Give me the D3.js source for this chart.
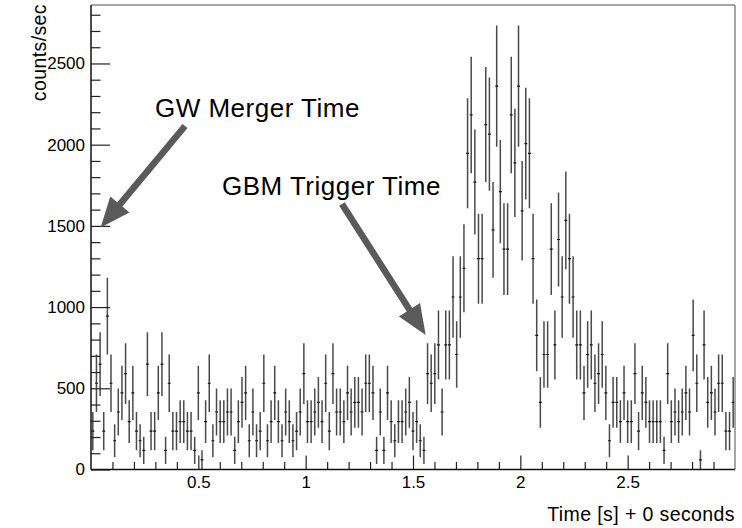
<!DOCTYPE html>
<html><head><meta charset="utf-8">
<script src="https://cdn.jsdelivr.net/npm/d3@7"></script>
<style>
body{margin:0;background:#fff}
svg{display:block}
text{font-family:"Liberation Sans",Arial,Helvetica,sans-serif;fill:#000}
</style>
</head><body>
<svg id="chart" width="742" height="528"></svg>
<script>
// ---- data ----
const binWidth = 3 / 177;          // seconds per bin
const timeRange = [0, 3];          // histogram range (s)
// counts per bin (rate = counts / binWidth)
const binCounts = [
  4, 9, 11, 4, 16, 9, 3, 6, 8, 10,
  5, 8, 4, 3, 2, 11, 4, 4, 8, 11,
  2, 9, 4, 4, 5, 5, 4, 4, 2, 8,
  1, 5, 9, 3, 6, 5, 5, 6, 6, 2,
  5, 7, 8, 3, 6, 3, 4, 9, 3, 5,
  8, 5, 3, 6, 5, 3, 4, 6, 10, 5,
  5, 6, 7, 5, 9, 4, 10, 6, 6, 5,
  8, 6, 7, 7, 6, 9, 9, 8, 2, 6,
  2, 8, 5, 3, 5, 5, 6, 7, 4, 5,
  3, 2, 10, 9, 10, 13, 6, 13, 13, 18,
  12, 18, 21, 33, 37, 30, 22, 22, 36, 35,
  25, 40, 29, 23, 23, 37, 32, 40, 27, 34,
  33, 22, 14, 7, 12, 12, 23, 13, 24, 18,
  26, 22, 18, 13, 13, 8, 12, 13, 9, 10,
  12, 8, 3, 7, 7, 5, 8, 5, 5, 10,
  4, 8, 7, 5, 5, 5, 5, 2, 10, 5,
  6, 5, 6, 8, 6, 14, 9, 1, 13, 7,
  8, 6, 9, 9, 4, 4, 7
];
const yMax = 2860;
const xMajorTicks = [0.5, 1, 1.5, 2, 2.5];
const xTickLabels = ["0.5", "1", "1.5", "2", "2.5"];
const yMajorTicks = [0, 500, 1000, 1500, 2000, 2500];
const yTickLabels = ["0", "500", "1000", "1500", "2000", "2500"];
const xTitle = "Time [s] + 0 seconds";
const yTitle = "counts/sec";
const annotationLabels = ["GW Merger Time", "GBM Trigger Time"];

// ---- layout (annotation anchors in data units) ----
const annotationLayout = [
  {tx: 0.298, ty: 2170, x0: 0.438, y0: 2115, x1: 0.045, y1: 1490},
  {tx: 0.610, ty: 1690, x0: 1.169, y0: 1635, x1: 1.559, y1: 828}
];

const svg = d3.select("#chart");
const L = 91, R = 735, T = 5, B = 469.5;
const x = d3.scaleLinear().domain(timeRange).range([L, R]);
const y = d3.scaleLinear().domain([0, yMax]).range([B, T]);

const bins = binCounts.map((n, i) => ({
  t: timeRange[0] + (i + 0.5) * binWidth,
  rate: n / binWidth,
  err: Math.sqrt(n) / binWidth
}));

// clip
svg.append("clipPath").attr("id", "plotclip")
  .append("rect").attr("x", L).attr("y", T).attr("width", R - L).attr("height", B - T);

// data
const g = svg.append("g").attr("clip-path", "url(#plotclip)");
g.selectAll("line.ey").data(bins).enter().append("line")
  .attr("x1", d => x(d.t)).attr("x2", d => x(d.t))
  .attr("y1", d => y(d.rate + d.err)).attr("y2", d => y(Math.max(0, d.rate - d.err)))
  .attr("stroke", "#4a4a4a").attr("stroke-width", 1.5);
g.selectAll("line.ex").data(bins).enter().append("line")
  .attr("x1", d => x(d.t - binWidth * 0.4)).attr("x2", d => x(d.t + binWidth * 0.4))
  .attr("y1", d => y(d.rate)).attr("y2", d => y(d.rate))
  .attr("stroke", "#111").attr("stroke-width", 1.2);

// axes
const xMinor = d3.range(1, 30).map(v => v / 10).filter(v => Math.abs(v * 2 - Math.round(v * 2)) > 1e-6);
const yMinor = d3.range(1, 29).map(v => v * 100).filter(v => v % 500 !== 0);

svg.append("g").attr("transform", `translate(0,${B})`)
  .call(d3.axisBottom(x).tickValues(xMajorTicks).tickSize(-14).tickPadding(6)
    .tickFormat((d, i) => xTickLabels[i]));
svg.append("g").attr("transform", `translate(0,${B})`)
  .call(d3.axisBottom(x).tickValues(xMinor).tickSize(-7.5).tickFormat(""));
svg.append("g").attr("transform", `translate(${L},0)`)
  .call(d3.axisLeft(y).tickValues(yMajorTicks).tickSize(-19).tickPadding(6)
    .tickFormat((d, i) => yTickLabels[i]));
svg.append("g").attr("transform", `translate(${L},0)`)
  .call(d3.axisLeft(y).tickValues(yMinor).tickSize(-9.5).tickFormat(""));
svg.selectAll(".domain").remove();
svg.selectAll(".tick line").attr("stroke", "#222").attr("stroke-width", 1.2);
svg.selectAll(".tick text").style("font-size", "17px")
  .style("font-family", '"Liberation Sans",Arial,Helvetica,sans-serif');

// frame
svg.append("line").attr("x1", L).attr("x2", R).attr("y1", T).attr("y2", T)
  .attr("stroke", "#888").attr("stroke-width", 1.5);
svg.append("line").attr("x1", R).attr("x2", R).attr("y1", T).attr("y2", B)
  .attr("stroke", "#888").attr("stroke-width", 1.5);
svg.append("line").attr("x1", L).attr("x2", R).attr("y1", B).attr("y2", B)
  .attr("stroke", "#111").attr("stroke-width", 1.5);
svg.append("line").attr("x1", L).attr("x2", L).attr("y1", T).attr("y2", B)
  .attr("stroke", "#111").attr("stroke-width", 1.5);

// titles
svg.append("text").attr("x", R).attr("y", 521).attr("text-anchor", "end")
  .style("font-size", "19.5px").style("letter-spacing", "0.4px").text(xTitle);
svg.append("text").attr("transform", `translate(46,4) rotate(-90)`)
  .attr("text-anchor", "end").style("font-size", "19.5px").style("letter-spacing", "0.4px").text(yTitle);

// annotations
function arrowPath(xs, ys, xe, ye, sw, hl, hw) {
  const dx = xe - xs, dy = ye - ys, len = Math.hypot(dx, dy);
  const ux = dx / len, uy = dy / len, px = -uy, py = ux;
  const bx = xe - ux * hl, by = ye - uy * hl;
  const pts = [
    [xs + px * sw, ys + py * sw], [bx + px * sw, by + py * sw],
    [bx + px * hw, by + py * hw], [xe, ye],
    [bx - px * hw, by - py * hw], [bx - px * sw, by - py * sw],
    [xs - px * sw, ys - py * sw]];
  return d3.line()(pts) + "Z";
}
annotationLayout.forEach((a, i) => {
  svg.append("text").attr("x", x(a.tx)).attr("y", y(a.ty))
    .style("font-size", "26px").style("letter-spacing", "0.5px").text(annotationLabels[i]);
  svg.append("path")
    .attr("d", arrowPath(x(a.x0), y(a.y0), x(a.x1), y(a.y1), 3.3, 30, 12.5))
    .attr("fill", "#5a5a5a");
});
</script>
</body></html>
